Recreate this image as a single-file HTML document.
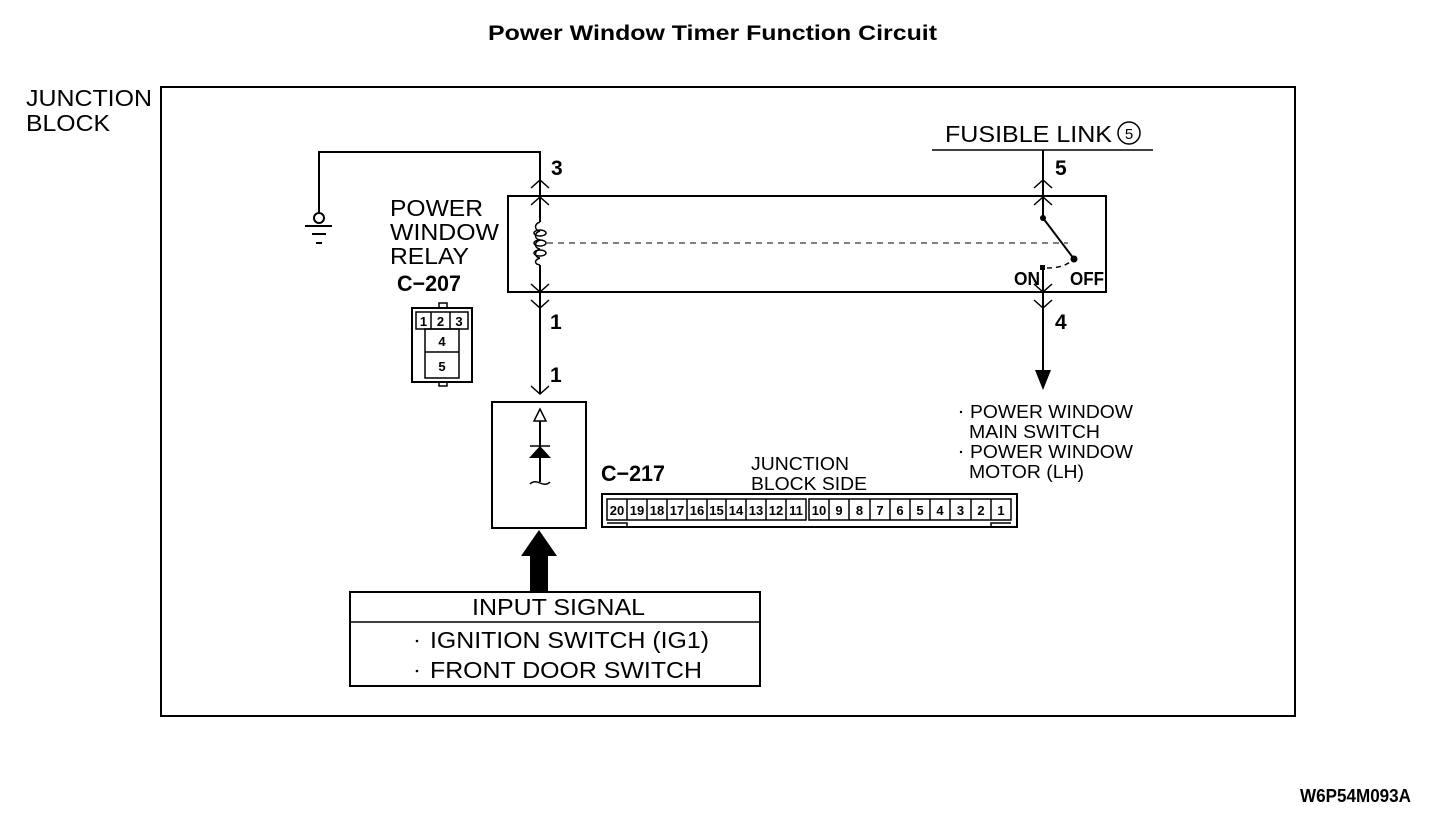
<!DOCTYPE html>
<html><head><meta charset="utf-8"><style>
html,body{margin:0;padding:0;background:#fff;}
svg{display:block;}
text{font-family:"Liberation Sans",sans-serif;fill:#000;}
.b{font-weight:bold;}
</style></head><body>
<svg width="1456" height="816" viewBox="0 0 1456 816" xmlns="http://www.w3.org/2000/svg">
<g stroke="#000" fill="none" stroke-width="2">
<rect x="161" y="87" width="1134" height="629"/>
<rect x="508" y="196" width="598" height="96"/>
<polyline points="319,212 319,152 540,152 540,222"/>
<line x1="540" y1="265" x2="540" y2="393"/>
<circle cx="319" cy="218" r="5" fill="#fff"/>
<line x1="305" y1="226" x2="332" y2="226"/>
<line x1="312" y1="234" x2="326" y2="234"/>
<line x1="316" y1="243" x2="322" y2="243"/>
<path d="M540,222 c-6,2 -6,8 0,9 M540,231 c-6,2 -6,8 0,9 M540,240 c-6,2 -6,8 0,9 M540,249 c-6,2 -6,8 0,9 M540,258 c-6,2 -6,6 0,7" stroke-width="1.5"/>
<ellipse cx="540" cy="233" rx="6" ry="3" stroke-width="1.5"/>
<ellipse cx="540" cy="243" rx="6" ry="3" stroke-width="1.5"/>
<ellipse cx="540" cy="253" rx="6" ry="3" stroke-width="1.5"/>
<polyline points="531,188 540,180 549,188" stroke-width="1.5"/>
<polyline points="531,205 540,197 549,205" stroke-width="1.5"/>
<polyline points="531,284 540,292 549,284" stroke-width="1.5"/>
<polyline points="531,300 540,308 549,300" stroke-width="1.5"/>
<polyline points="531,386 540,394 549,386" stroke-width="1.5"/>
<line x1="547" y1="243" x2="1068" y2="243" stroke-width="1" stroke-dasharray="6,5"/>
<line x1="1043" y1="150" x2="1043" y2="218"/>
<line x1="1043" y1="268" x2="1043" y2="372"/>
<polyline points="1034,188 1043,180 1052,188" stroke-width="1.5"/>
<polyline points="1034,205 1043,197 1052,205" stroke-width="1.5"/>
<polyline points="1034,284 1043,292 1052,284" stroke-width="1.5"/>
<polyline points="1034,300 1043,308 1052,300" stroke-width="1.5"/>
<line x1="1043" y1="218" x2="1074" y2="259"/>
<path d="M1047,268 Q1062,268 1070,262" stroke-width="1.5" stroke-dasharray="5,4"/>
<line x1="932" y1="150" x2="1153" y2="150" stroke-width="1.5"/>
<circle cx="1129" cy="133" r="11" stroke-width="1.5"/>
<rect x="412" y="308" width="60" height="74"/>
<rect x="439" y="303" width="8" height="5" stroke-width="1.5"/>
<rect x="439" y="382" width="8" height="4" stroke-width="1.5"/>
<rect x="416" y="312" width="52" height="17" stroke-width="1.5"/>
<line x1="431" y1="312" x2="431" y2="329" stroke-width="1.5"/>
<line x1="450" y1="312" x2="450" y2="329" stroke-width="1.5"/>
<rect x="425" y="329" width="34" height="49" stroke-width="1.5"/>
<line x1="425" y1="352" x2="459" y2="352" stroke-width="1.5"/>
<rect x="492" y="402" width="94" height="126"/>
<polygon points="540,409 534,421 546,421" stroke-width="1.5"/>
<line x1="540" y1="421" x2="540" y2="482" stroke-width="2"/>
<line x1="530" y1="446" x2="550" y2="446" stroke-width="1.5"/>
<path d="M530,484 q4,-4 10,-1 q6,3 10,-1" stroke-width="1.5"/>
<rect x="350" y="592" width="410" height="94"/>
<line x1="350" y1="622" x2="760" y2="622" stroke-width="1.5"/>
<rect x="602" y="494" width="415" height="33"/>
<rect x="607" y="499" width="199" height="21" stroke-width="1.5"/>
<rect x="809" y="499" width="202" height="21" stroke-width="1.5"/>
<polyline points="607,523 627,523 627,527" stroke-width="1.5"/>
<polyline points="1011,523 991,523 991,527" stroke-width="1.5"/>
<path d="M627,499V520M647,499V520M667,499V520M687,499V520M707,499V520M726,499V520M746,499V520M766,499V520M786,499V520M829,499V520M849,499V520M870,499V520M890,499V520M910,499V520M930,499V520M950,499V520M971,499V520M991,499V520" stroke-width="1.5"/>
</g>
<g fill="#000">
<polygon points="529,458 551,458 540,446"/>
<circle cx="1043" cy="218" r="3"/>
<circle cx="1074" cy="259" r="3.5"/>
<rect x="1040" y="265" width="5" height="5"/>
<polygon points="1035,370 1051,370 1043,390"/>
<rect x="530" y="555" width="18" height="37"/>
<polygon points="521,556 557,556 539,530"/>
<circle cx="417" cy="641" r="1.3"/>
<circle cx="417" cy="671" r="1.3"/>
<circle cx="961" cy="412" r="1.2"/>
<circle cx="961" cy="452" r="1.2"/>
</g>
<text x="488" y="40" font-size="21" class="b" textLength="449" lengthAdjust="spacingAndGlyphs">Power Window Timer Function Circuit</text>
<text x="26" y="106" font-size="23" textLength="126" lengthAdjust="spacingAndGlyphs">JUNCTION</text>
<text x="26" y="131" font-size="23" textLength="84" lengthAdjust="spacingAndGlyphs">BLOCK</text>
<text x="945" y="142" font-size="23" textLength="167" lengthAdjust="spacingAndGlyphs">FUSIBLE LINK</text>
<text x="1129" y="139" font-size="15" text-anchor="middle">5</text>
<text x="390" y="216" font-size="23" textLength="93" lengthAdjust="spacingAndGlyphs">POWER</text>
<text x="390" y="240" font-size="23" textLength="109" lengthAdjust="spacingAndGlyphs">WINDOW</text>
<text x="390" y="264" font-size="23" textLength="79" lengthAdjust="spacingAndGlyphs">RELAY</text>
<text x="397" y="291" font-size="22" class="b" textLength="64" lengthAdjust="spacingAndGlyphs">C−207</text>
<text x="551" y="175" font-size="21" class="b">3</text>
<text x="1055" y="175" font-size="21" class="b">5</text>
<text x="550" y="329" font-size="21" class="b">1</text>
<text x="550" y="382" font-size="21" class="b">1</text>
<text x="1055" y="329" font-size="21" class="b">4</text>
<text x="1014" y="285" font-size="18" class="b" textLength="26" lengthAdjust="spacingAndGlyphs">ON</text>
<text x="1070" y="285" font-size="18" class="b" textLength="34" lengthAdjust="spacingAndGlyphs">OFF</text>
<g font-size="13" class="b" text-anchor="middle">
<text x="423.5" y="326">1</text><text x="440.5" y="326">2</text><text x="459" y="326">3</text>
<text x="442" y="346">4</text><text x="442" y="371">5</text>
</g>
<text x="601" y="481" font-size="22" class="b" textLength="64" lengthAdjust="spacingAndGlyphs">C−217</text>
<text x="751" y="470" font-size="18" textLength="98" lengthAdjust="spacingAndGlyphs">JUNCTION</text>
<text x="751" y="490" font-size="18" textLength="116" lengthAdjust="spacingAndGlyphs">BLOCK SIDE</text>
<g font-size="13" class="b" text-anchor="middle">
<text x="617" y="515">20</text><text x="637" y="515">19</text><text x="657" y="515">18</text><text x="677" y="515">17</text><text x="697" y="515">16</text><text x="716.5" y="515">15</text><text x="736" y="515">14</text><text x="756" y="515">13</text><text x="776" y="515">12</text><text x="796" y="515">11</text>
<text x="819" y="515">10</text><text x="839" y="515">9</text><text x="859.5" y="515">8</text><text x="880" y="515">7</text><text x="900" y="515">6</text><text x="920" y="515">5</text><text x="940" y="515">4</text><text x="960.5" y="515">3</text><text x="981" y="515">2</text><text x="1001" y="515">1</text>
</g>
<text x="970" y="418" font-size="18" textLength="163" lengthAdjust="spacingAndGlyphs">POWER WINDOW</text>
<text x="969" y="438" font-size="18" textLength="131" lengthAdjust="spacingAndGlyphs">MAIN SWITCH</text>
<text x="970" y="458" font-size="18" textLength="163" lengthAdjust="spacingAndGlyphs">POWER WINDOW</text>
<text x="969" y="478" font-size="18" textLength="115" lengthAdjust="spacingAndGlyphs">MOTOR (LH)</text>
<text x="472" y="615" font-size="23" textLength="173" lengthAdjust="spacingAndGlyphs">INPUT SIGNAL</text>
<text x="430" y="648" font-size="23" textLength="279" lengthAdjust="spacingAndGlyphs">IGNITION SWITCH (IG1)</text>
<text x="430" y="678" font-size="23" textLength="272" lengthAdjust="spacingAndGlyphs">FRONT DOOR SWITCH</text>
<text x="1300" y="802" font-size="18" class="b" textLength="111" lengthAdjust="spacingAndGlyphs">W6P54M093A</text>
</svg>
</body></html>
